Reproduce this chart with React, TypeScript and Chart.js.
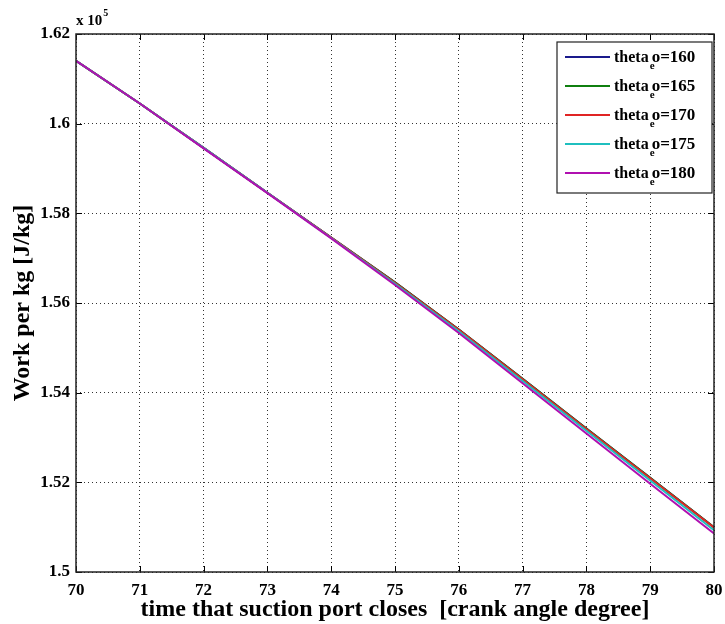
import React, { useEffect, useRef } from "react";
import { Chart, registerables } from "chart.js";

Chart.register(...registerables);

// crank angle (deg) at which suction port closes
const xValues = [70, 71, 72, 73, 74, 75, 76, 77, 78, 79, 80];
// work per kg, in units of 1e5 J/kg
const theta160 = [1.614, 1.6045, 1.5946, 1.5846, 1.5746, 1.5646, 1.5541, 1.5431, 1.532, 1.521, 1.51];
const theta165 = [1.614, 1.6045, 1.5946, 1.5846, 1.5746, 1.5646, 1.5541, 1.5431, 1.532, 1.521, 1.51];
const theta170 = [1.614, 1.6045, 1.5946, 1.5846, 1.5746, 1.5645, 1.554, 1.543, 1.5319, 1.5209, 1.5099];
const theta175 = [1.614, 1.6045, 1.5946, 1.5846, 1.5745, 1.5643, 1.5537, 1.5426, 1.5315, 1.5204, 1.5093];
const theta180 = [1.614, 1.6045, 1.5945, 1.5845, 1.5744, 1.564, 1.5533, 1.5421, 1.5309, 1.5197, 1.5086];

const seriesLabels = ["160", "165", "170", "175", "180"];
const seriesValues = [theta160, theta165, theta170, theta175, theta180];
const seriesColors = ["#1a1a8c", "#0f7f0f", "#e02424", "#1fbfbf", "#b010b0"];

const xTitle = "time that suction port closes  [crank angle degree]";
const yTitle = "Work per kg [J/kg]";
const FONT = "'Liberation Serif', 'Times New Roman', serif";

const decorPlugin = {
  id: "decor",
  afterDatasetsDraw(chart: any) {
    const { ctx, chartArea } = chart;
    const { left, right, top, bottom } = chartArea;
    const xs = chart.scales.x;
    const ys = chart.scales.y;
    ctx.save();
    // inner tick marks
    ctx.strokeStyle = "#000";
    ctx.lineWidth = 1;
    ctx.setLineDash([]);
    xs.ticks.forEach((t: any) => {
      const px = Math.round(xs.getPixelForValue(t.value)) + 0.5;
      ctx.beginPath();
      ctx.moveTo(px, bottom);
      ctx.lineTo(px, bottom - 6);
      ctx.moveTo(px, top);
      ctx.lineTo(px, top + 6);
      ctx.stroke();
    });
    ys.ticks.forEach((t: any) => {
      const py = Math.round(ys.getPixelForValue(t.value)) + 0.5;
      ctx.beginPath();
      ctx.moveTo(left, py);
      ctx.lineTo(left + 6, py);
      ctx.moveTo(right, py);
      ctx.lineTo(right - 6, py);
      ctx.stroke();
    });
    // frame
    ctx.lineWidth = 1.5;
    ctx.strokeStyle = "#222";
    ctx.strokeRect(left, top, right - left, bottom - top);

    // exponent label
    ctx.fillStyle = "#000";
    ctx.textBaseline = "alphabetic";
    ctx.textAlign = "left";
    ctx.font = `bold 15px ${FONT}`;
    ctx.fillText("x 10", left, top - 9);
    const w = ctx.measureText("x 10").width;
    ctx.font = `bold 10px ${FONT}`;
    ctx.fillText("5", left + w + 1, top - 18);

    // legend
    const bx = 557, by = 42, bw = 155, bh = 151;
    ctx.fillStyle = "#fff";
    ctx.fillRect(bx, by, bw, bh);
    ctx.lineWidth = 1.2;
    ctx.strokeStyle = "#222";
    ctx.strokeRect(bx, by, bw, bh);
    seriesLabels.forEach((lab, i) => {
      const cy = 57 + i * 29;
      ctx.strokeStyle = seriesColors[i];
      ctx.lineWidth = 2;
      ctx.beginPath();
      ctx.moveTo(565, cy);
      ctx.lineTo(610, cy);
      ctx.stroke();
      ctx.fillStyle = "#000";
      ctx.font = `bold 16px ${FONT}`;
      ctx.textBaseline = "alphabetic";
      const base = cy + 5;
      ctx.fillText("theta", 614, base);
      const tw = ctx.measureText("theta").width;
      ctx.font = `bold 11px ${FONT}`;
      ctx.fillText("e", 614 + tw + 1, base + 7);
      ctx.font = `bold 17px ${FONT}`;
      ctx.fillText("o=" + lab, 614 + tw + 3, base);
    });
    ctx.restore();
  },
};

export default function App() {
  const canvasRef = useRef<HTMLCanvasElement | null>(null);
  useEffect(() => {
    if (!canvasRef.current) return;
    const datasets = seriesValues.map((vals, i) => ({
      label: "theta_eo=" + seriesLabels[i],
      data: vals.map((v, j) => ({ x: xValues[j], y: v })),
      borderColor: seriesColors[i],
      backgroundColor: seriesColors[i],
      borderWidth: 2,
      pointRadius: 0,
      tension: 0,
      fill: false,
      order: seriesValues.length - 1 - i,
    }));
    const chart = new Chart(canvasRef.current, {
      type: "line",
      data: { datasets },
      plugins: [decorPlugin],
      options: {
        animation: false,
        responsive: false,
        layout: { padding: { left: 0, top: 34, right: 11, bottom: 0 } },
        plugins: { legend: { display: false }, tooltip: { enabled: false } },
        scales: {
          x: {
            type: "linear",
            min: 70,
            max: 80,
            afterFit: (s: any) => { s.height = 52; s.paddingLeft = 0; s.paddingRight = 0; },
            ticks: {
              stepSize: 1,
              color: "#000",
              padding: 8,
              font: { family: FONT, size: 17, weight: "bold" },
              callback: (v: any) => String(v),
            },
            grid: { color: "#333", lineWidth: 1, drawTicks: false },
            border: { display: false, dash: [1, 3] },
            title: {
              display: true,
              text: xTitle,
              color: "#000",
              font: { family: FONT, size: 24, weight: "bold" },
              padding: { top: 0, bottom: 0 },
            },
          },
          y: {
            type: "linear",
            min: 1.5,
            max: 1.62,
            afterFit: (s: any) => { s.width = 76; },
            ticks: {
              stepSize: 0.02,
              color: "#000",
              padding: 6,
              font: { family: FONT, size: 17, weight: "bold" },
              callback: (v: any) => String(Number(Number(v).toFixed(2))),
            },
            grid: { color: "#333", lineWidth: 1, drawTicks: false },
            border: { display: false, dash: [1, 3] },
            title: {
              display: true,
              text: yTitle,
              color: "#000",
              font: { family: FONT, size: 24, weight: "bold" },
              padding: { top: 8, bottom: 0 },
            },
          },
        },
      },
    } as any);
    return () => chart.destroy();
  }, []);
  return (
    <div style={{ position: "absolute", left: 0, top: 0, width: 725, height: 624, background: "#fff" }}>
      <canvas ref={canvasRef} width={725} height={624} style={{ display: "block" }} />
    </div>
  );
}
